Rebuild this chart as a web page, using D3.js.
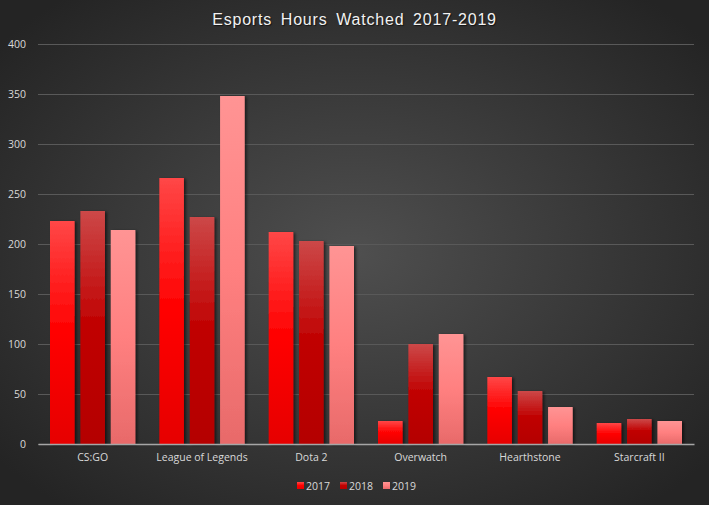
<!DOCTYPE html>
<html>
<head>
<meta charset="utf-8">
<script src="https://cdn.jsdelivr.net/npm/d3@7"></script>
<style>
  body { margin: 0; background: #262626; }
</style>
</head>
<body>
<div id="chart-area"></div>
<script>
// data
var games = ["CS:GO", "League of Legends", "Dota 2", "Overwatch", "Hearthstone", "Starcraft II"];
var years = ["2017", "2018", "2019"];
var hours2017 = [223, 266, 212, 23, 67, 21];
var hours2018 = [233, 227, 203, 100, 53, 25];
var hours2019 = [214, 348, 198, 110, 37, 23];
var yTicks = [0, 50, 100, 150, 200, 250, 300, 350, 400];

var series = [hours2017, hours2018, hours2019];

var width = 709, height = 505;
var margin = {left: 38, right: 15, top: 44, bottom: 61};
var plotW = width - margin.left - margin.right;
var plotH = height - margin.top - margin.bottom;

var svg = d3.select("#chart-area").append("svg")
    .attr("width", width)
    .attr("height", height);

var defs = svg.append("defs");

// background
var bg = defs.append("radialGradient").attr("id", "bg")
    .attr("cx", "50%").attr("cy", "50%").attr("r", "65%");
bg.append("stop").attr("offset", "0%").attr("stop-color", "#4f4f4f");
bg.append("stop").attr("offset", "100%").attr("stop-color", "#242424");

// bar fills: top, middle, bottom
var fills = [
    ["#ff4747", "#ff0000", "#e60000"],
    ["#cc4848", "#c00000", "#b40000"],
    ["#ff9494", "#ff8080", "#e86a6a"]
];
fills.forEach(function(c, i) {
    var lg = defs.append("linearGradient").attr("id", "bar" + i)
        .attr("x1", 0).attr("y1", 0).attr("x2", 0).attr("y2", 1);
    lg.append("stop").attr("offset", "0%").attr("stop-color", c[0]);
    lg.append("stop").attr("offset", "50%").attr("stop-color", c[1]);
    lg.append("stop").attr("offset", "100%").attr("stop-color", c[2]);
});

var shadow = defs.append("filter").attr("id", "shadow")
    .attr("x", "-20%").attr("y", "-10%").attr("width", "160%").attr("height", "130%");
shadow.append("feDropShadow")
    .attr("dx", 2).attr("dy", 1).attr("stdDeviation", 1.6)
    .attr("flood-color", "#000").attr("flood-opacity", 0.55);

svg.append("rect")
    .attr("width", width).attr("height", height)
    .attr("fill", "url(#bg)");

svg.append("text")
    .attr("x", width / 2)
    .attr("y", 25)
    .attr("text-anchor", "middle")
    .attr("font-family", "Liberation Sans, Arial, sans-serif")
    .attr("font-size", "16px")
    .attr("letter-spacing", "0.8px")
    .attr("word-spacing", "3.5px")
    .attr("fill", "#f2f2f2")
    .style("text-shadow", "1px 1px 1px rgba(0,0,0,0.6)")
    .text("Esports Hours Watched 2017-2019");

var g = svg.append("g")
    .attr("transform", "translate(" + margin.left + "," + margin.top + ")");

var x = d3.scaleBand()
    .domain(games)
    .range([0, plotW])
    .paddingInner(0)
    .paddingOuter(0);

var x1 = d3.scaleBand()
    .domain(years)
    .range([12, x.bandwidth() - 12])
    .paddingInner(0.19)
    .paddingOuter(0);

var y = d3.scaleLinear()
    .domain([0, 400])
    .range([plotH, 0]);

// gridlines
var grid = d3.axisLeft(y).tickValues(yTicks).tickSize(-plotW).tickFormat("");
g.append("g")
    .attr("class", "grid")
    .call(grid)
    .call(function(s) {
        s.select(".domain").remove();
        s.selectAll("line").attr("stroke", "#595959").attr("stroke-width", 1);
    });

// y axis labels
var leftAxis = d3.axisLeft(y).tickValues(yTicks).tickSize(0).tickPadding(12);
g.append("g")
    .attr("class", "left axis")
    .call(leftAxis)
    .call(function(s) {
        s.select(".domain").remove();
        s.selectAll("text")
            .attr("font-family", "Open Sans, sans-serif")
            .attr("font-size", "10.5px")
            .attr("fill", "#d9d9d9");
    });

// bars
var groups = g.selectAll(".game")
    .data(games)
    .enter().append("g")
    .attr("class", "game")
    .attr("transform", function(d) { return "translate(" + x(d) + ",0)"; });

groups.selectAll("rect")
    .data(function(d, i) {
        return years.map(function(yr, j) { return {year: yr, idx: j, value: series[j][i]}; });
    })
    .enter().append("rect")
    .attr("x", function(d) { return x1(d.year); })
    .attr("y", function(d) { return y(d.value); })
    .attr("width", x1.bandwidth())
    .attr("height", function(d) { return plotH - y(d.value); })
    .attr("fill", function(d) { return "url(#bar" + d.idx + ")"; })
    .attr("filter", "url(#shadow)");

// x axis
var bottomAxis = d3.axisBottom(x).tickSize(0).tickPadding(10);
g.append("g")
    .attr("class", "bottom axis")
    .attr("transform", "translate(0," + plotH + ")")
    .call(bottomAxis)
    .call(function(s) {
        s.select(".domain").attr("stroke", "#a6a6a6").attr("stroke-width", 1.5);
        s.selectAll("text")
            .attr("font-family", "Open Sans, sans-serif")
            .attr("font-size", "10.5px")
            .attr("fill", "#d9d9d9");
    });

// legend
var legendX = [297, 340, 383];
var legend = svg.append("g").attr("class", "legend");
years.forEach(function(yr, i) {
    var item = legend.append("g")
        .attr("transform", "translate(" + legendX[i] + ",482)");
    item.append("rect")
        .attr("width", 7).attr("height", 7)
        .attr("fill", "url(#bar" + i + ")");
    item.append("text")
        .attr("x", 9).attr("y", 7.5)
        .attr("font-family", "Open Sans, sans-serif")
        .attr("font-size", "10.5px")
        .attr("fill", "#d9d9d9")
        .text(yr);
});
</script>
</body>
</html>
